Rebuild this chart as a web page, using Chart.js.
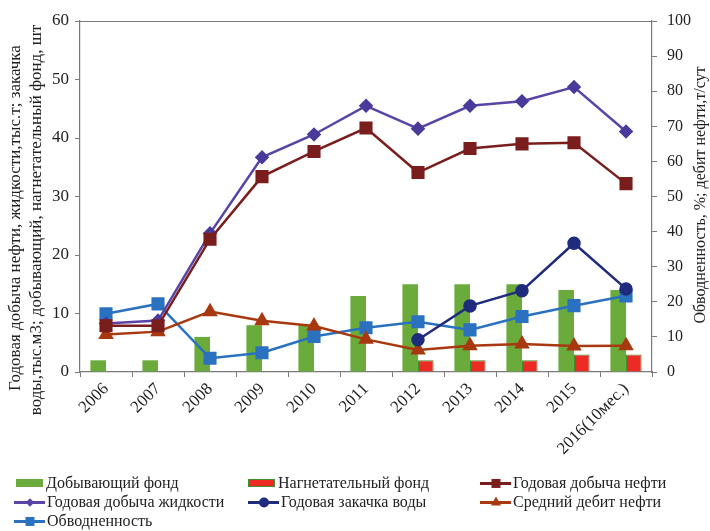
<!DOCTYPE html>
<html>
<head>
<meta charset="utf-8">
<script src="https://cdn.jsdelivr.net/npm/chart.js@4/dist/chart.umd.min.js"></script>
<style>
  html, body { margin: 0; padding: 0; background: #fff; }
  #wrap { position: relative; width: 710px; height: 531px; overflow: hidden; }
  #c { position: absolute; left: 0; top: 0; }
  #legend { position: absolute; left: 0; top: 0; width: 710px; height: 531px; pointer-events: none;
            font-family: "Liberation Serif", "Times New Roman", serif; font-size: 16px; color: #222; }
  .item { position: absolute; display: flex; align-items: center; white-space: nowrap; height: 20px; }
  .bar { width: 27px; height: 8px; margin-right: 3px; box-sizing: border-box; }
  .line { position: relative; width: 31px; height: 12px; margin-right: 2px; }
  .line .ln { position: absolute; left: 0; right: 0; top: 5px; height: 3px; }
  .line .mk { position: absolute; left: 50%; top: 50%; }
</style>
</head>
<body>
<div id="wrap">
  <canvas id="c" width="710" height="531"></canvas>
  <div id="legend"></div>
</div>
<script>
// ---- Data ----
const years = ['2006','2007','2008','2009','2010','2011','2012','2013','2014','2015','2016(10мес.)'];
const producingFund = [2, 2, 6, 8, 8, 13, 15, 15, 15, 14, 14];
const injectionFund = [null, null, null, null, null, null, 2, 2, 2, 3, 3];
const oilProduction = [7.9, 7.9, 22.7, 33.4, 37.7, 41.7, 34.1, 38.2, 39.0, 39.2, 32.2];
const liquidProduction = [8.3, 8.8, 23.7, 36.7, 40.6, 45.5, 41.6, 45.5, 46.3, 48.7, 41.1];
const waterInjection = [null, null, null, null, null, null, 5.5, 11.3, 13.9, 22.0, 14.2];
const avgOilRate = [10.7, 11.5, 17.2, 14.6, 13.1, 9.3, 6.3, 7.5, 8.0, 7.4, 7.5];
const waterCut = [16.6, 19.4, 3.9, 5.5, 10.1, 12.6, 14.3, 12.0, 15.8, 18.9, 21.7];
const leftTicks = [0, 10, 20, 30, 40, 50, 60];
const rightTicks = [0, 10, 20, 30, 40, 50, 60, 70, 80, 90, 100];

const leftTitle1 = 'Годовая добыча нефти, жидкости,тыс.т; закачка';
const leftTitle2 = 'воды,тыс.м3; добывающий, нагнетательный фонд, шт';
const rightTitle = 'Обводненность, %; дебит нефти,т/сут';

const FONT = '"Liberation Serif", "Times New Roman", serif';
const C = {
  green: '#6aab3c', red: '#ec2b24', redBorder: '#3f8f2c',
  oil: '#7a1d1d', liquid: '#5a44a6', liquidPt: '#4a3a9a',
  inj: '#1f2b7c', rate: '#a8380f', cut: '#2a72c0'
};

const datasets = [
  { type: 'bar', label: 'Добывающий фонд', data: producingFund, yAxisID: 'yL', order: 10,
    backgroundColor: C.green, borderWidth: 0, categoryPercentage: 0.6, barPercentage: 1.0, legend: {kind: 'bar', fill: C.green, border: C.green} },
  { type: 'bar', label: 'Нагнетательный фонд', data: injectionFund, yAxisID: 'yL', order: 10,
    backgroundColor: C.red, borderColor: C.redBorder, borderWidth: 1, categoryPercentage: 0.6, barPercentage: 1.0, legend: {kind: 'bar', fill: C.red, border: C.redBorder} },
  { type: 'line', label: 'Годовая добыча нефти', data: oilProduction, yAxisID: 'yL', order: 1,
    borderColor: C.oil, backgroundColor: C.oil, borderWidth: 2.5, pointStyle: 'rect', pointRadius: 7.5, tension: 0, legend: {kind: 'line', mk: 'square', color: C.oil} },
  { type: 'line', label: 'Годовая добыча жидкости', data: liquidProduction, yAxisID: 'yL', order: 1,
    borderColor: C.liquid, backgroundColor: C.liquidPt, pointBorderColor: C.liquidPt, borderWidth: 2.5, pointStyle: 'rectRot', pointRadius: 5.5, tension: 0, legend: {kind: 'line', mk: 'diamond', color: C.liquid} },
  { type: 'line', label: 'Годовая закачка воды', data: waterInjection, yAxisID: 'yL', order: 1,
    borderColor: C.inj, backgroundColor: C.inj, borderWidth: 2.5, pointStyle: 'circle', pointRadius: 5.5, tension: 0, legend: {kind: 'line', mk: 'circle', color: C.inj} },
  { type: 'line', label: 'Средний дебит нефти', data: avgOilRate, yAxisID: 'yR', order: 1,
    borderColor: C.rate, backgroundColor: C.rate, borderWidth: 2.5, pointStyle: 'triangle', pointRadius: 6.5, tension: 0, legend: {kind: 'line', mk: 'triangle', color: C.rate} },
  { type: 'line', label: 'Обводненность', data: waterCut, yAxisID: 'yR', order: 1,
    borderColor: C.cut, backgroundColor: C.cut, borderWidth: 2.5, pointStyle: 'rect', pointRadius: 7.5, tension: 0, legend: {kind: 'line', mk: 'square', color: C.cut} }
];

const AX = '#7a7a7a';
const tickFont = { family: FONT, size: 17 };

const framePlugin = {
  id: 'frameAndTitles',
  afterDatasetsDraw(chart) {
    const { ctx, chartArea: a } = chart;
    ctx.save();
    ctx.strokeStyle = AX; ctx.lineWidth = 1;
    ctx.beginPath();
    ctx.moveTo(a.left, a.top + 0.5); ctx.lineTo(a.right, a.top + 0.5);
    ctx.stroke();
    ctx.fillStyle = '#222';
    ctx.textAlign = 'center'; ctx.textBaseline = 'middle';
    const drawV = (txt, x, y) => { ctx.save(); ctx.translate(x, y); ctx.rotate(-Math.PI/2); ctx.fillText(txt, 0, 0); ctx.restore(); };
    ctx.font = '17px ' + FONT;
    drawV(leftTitle1, 16, 218);
    drawV(leftTitle2, 37, 220);
    ctx.font = '16px ' + FONT;
    drawV(rightTitle, 701, 195);
    ctx.restore();
  }
};

const chart = new Chart(document.getElementById('c'), {
  data: { labels: years, datasets },
  options: {
    responsive: false, animation: false,
    layout: { padding: { top: 21, left: 0, right: 0, bottom: 0 } },
    plugins: { legend: { display: false }, tooltip: { enabled: false } },
    scales: {
      x: {
        type: 'category', offset: true,
        grid: { display: true, drawOnChartArea: false, drawTicks: true, tickLength: 5, offset: true, color: AX },
        border: { color: AX, width: 1.2 },
        ticks: { font: { family: FONT, size: 17 }, color: '#222', maxRotation: 45, minRotation: 45, padding: 2, autoSkip: false },
        afterFit(s) { s.height = 159; }
      },
      yL: {
        position: 'left', min: 0, max: 60,
        afterBuildTicks(s) { s.ticks = leftTicks.map(v => ({ value: v })); },
        grid: { drawOnChartArea: false, tickLength: 5, color: AX },
        border: { color: AX, width: 1.2 },
        ticks: { font: tickFont, color: '#222', padding: 6 },
        afterFit(s) { s.width = 80; }
      },
      yR: {
        position: 'right', min: 0, max: 100,
        afterBuildTicks(s) { s.ticks = rightTicks.map(v => ({ value: v })); },
        grid: { drawOnChartArea: false, tickLength: 5, color: AX },
        border: { color: AX, width: 1.2 },
        ticks: { font: { family: FONT, size: 16 }, color: '#222', padding: 10 },
        afterFit(s) { s.width = 58; }
      }
    }
  },
  plugins: [framePlugin]
});

// ---- HTML legend built from datasets ----
const legendPos = [
  [16, 473], [248, 473], [480, 473],
  [14, 492], [248, 492], [480, 492],
  [14, 511]
];
const lg = document.getElementById('legend');
chart.data.datasets.forEach((ds, i) => {
  const it = document.createElement('div');
  it.className = 'item';
  it.style.left = legendPos[i][0] + 'px';
  it.style.top = legendPos[i][1] + 'px';
  const L = ds.legend;
  let sw;
  if (L.kind === 'bar') {
    sw = document.createElement('div');
    sw.className = 'bar';
    sw.style.background = L.fill;
    sw.style.border = '1.5px solid ' + L.border;
  } else {
    sw = document.createElement('div');
    sw.className = 'line';
    const ln = document.createElement('div');
    ln.className = 'ln'; ln.style.background = L.color;
    sw.appendChild(ln);
    const mk = document.createElement('div');
    mk.className = 'mk';
    if (L.mk === 'square') { mk.style.width = '9px'; mk.style.height = '9px'; mk.style.background = L.color; mk.style.transform = 'translate(-50%,-45%)'; }
    if (L.mk === 'circle') { mk.style.width = '10px'; mk.style.height = '10px'; mk.style.borderRadius = '50%'; mk.style.background = L.color; mk.style.transform = 'translate(-50%,-45%)'; }
    if (L.mk === 'diamond') { mk.style.width = '6px'; mk.style.height = '6px'; mk.style.background = L.color; mk.style.transform = 'translate(-50%,-40%) rotate(45deg)'; }
    if (L.mk === 'triangle') { mk.style.width = '0'; mk.style.height = '0'; mk.style.borderLeft = '5px solid transparent'; mk.style.borderRight = '5px solid transparent'; mk.style.borderBottom = '9px solid ' + L.color; mk.style.transform = 'translate(-50%,-60%)'; }
    sw.appendChild(mk);
  }
  it.appendChild(sw);
  const t = document.createElement('span');
  t.textContent = ds.label;
  it.appendChild(t);
  lg.appendChild(it);
});
</script>
</body>
</html>
